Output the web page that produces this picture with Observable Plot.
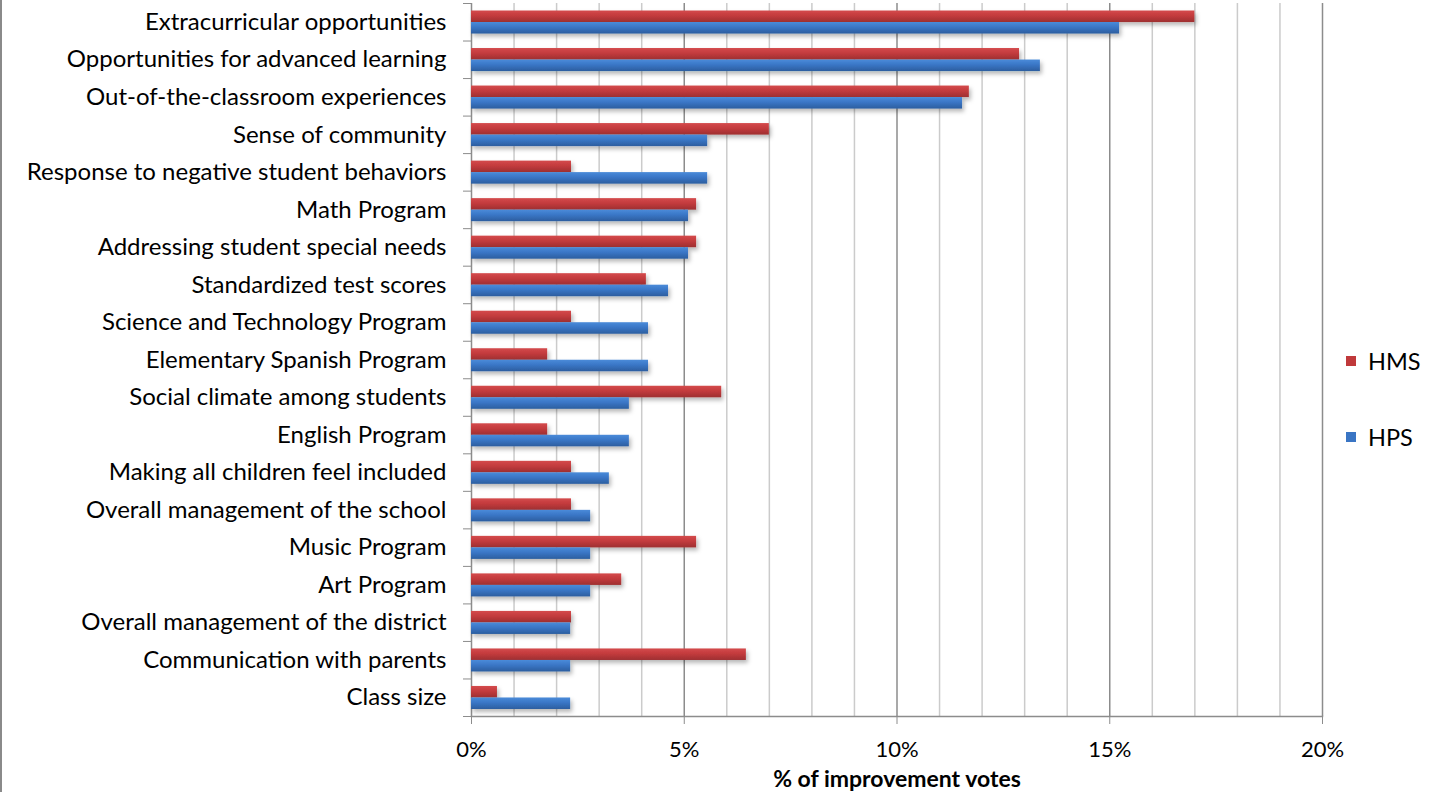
<!DOCTYPE html>
<html><head><meta charset="utf-8">
<script src="https://cdn.jsdelivr.net/npm/d3@7"></script>
<script src="https://cdn.jsdelivr.net/npm/@observablehq/plot@0.6"></script>
<style>
body{margin:0;background:#fff;}
#wrap{position:relative;width:1436px;height:792px;overflow:hidden;font-family:Lato,sans-serif;}
#border{position:absolute;left:0;top:0;width:2px;height:792px;background:#8a8a8a}
.leg{position:absolute;left:1346px;font-size:23.5px;color:#000;display:flex;align-items:center;height:26px;}
.leg span.sw{display:inline-block;width:10px;height:10px;margin-right:12px}
</style></head>
<body>
<div id="wrap"><div id="border"></div></div>
<script>
const categories = [
  "Extracurricular opportunities",
  "Opportunities for advanced learning",
  "Out-of-the-classroom experiences",
  "Sense of community",
  "Response to negative student behaviors",
  "Math Program",
  "Addressing student special needs",
  "Standardized test scores",
  "Science and Technology Program",
  "Elementary Spanish Program",
  "Social climate among students",
  "English Program",
  "Making all children feel included",
  "Overall management of the school",
  "Music Program",
  "Art Program",
  "Overall management of the district",
  "Communication with parents",
  "Class size"
];
const hms = [17.0, 12.88, 11.7, 7.0, 2.35, 5.29, 5.29, 4.11, 2.35, 1.79, 5.88, 1.79, 2.35, 2.35, 5.29, 3.53, 2.35, 6.46, 0.61];
const hps = [15.23, 13.37, 11.54, 5.55, 5.55, 5.1, 5.1, 4.63, 4.16, 4.16, 3.71, 3.71, 3.24, 2.8, 2.8, 2.8, 2.33, 2.33, 2.33];
const seriesNames = ["HMS", "HPS"];
const xTicks = [0, 0.05, 0.10, 0.15, 0.20];
const minorTicks = [0.01,0.02,0.03,0.04,0.06,0.07,0.08,0.09,0.11,0.12,0.13,0.14,0.16,0.17,0.18,0.19];
const axisTitle = "% of improvement votes";

const hmsRows = categories.map((c, i) => ({category: c, value: hms[i] / 100}));
const hpsRows = categories.map((c, i) => ({category: c, value: hps[i] / 100}));

const H = 792, MT = 3, MB = 76;
const band = (H - MT - MB) / categories.length;

const svg = Plot.plot({
  width: 1436,
  height: H,
  marginLeft: 471,
  marginRight: 114,
  marginTop: MT,
  marginBottom: MB,
  style: {fontFamily: "Lato, sans-serif", fontSize: "24px", color: "#000", background: "transparent"},
  x: {domain: [0, 0.2]},
  y: {domain: categories, padding: 0, round: false},
  marks: [
    Plot.ruleX(minorTicks, {stroke: "#cbcbcb", strokeWidth: 1.5}),
    Plot.ruleX(xTicks, {stroke: "#8c8c8c", strokeWidth: 1.5}),
    Plot.barX(hmsRows, {x: "value", y: "category", fill: "url(#gRed)", insetTop: 7.5, insetBottom: 18.5, className: "bars"}),
    Plot.barX(hpsRows, {x: "value", y: "category", fill: "url(#gBlue)", insetTop: 19, insetBottom: 7, className: "bars"}),
    Plot.axisY({tickSize: 0, tickPadding: 25, fontSize: 24, label: null}),
    Plot.axisY({tickSize: 8, tickFormat: () => "", label: null, dy: -band / 2, stroke: "#8c8c8c"}),
    Plot.axisY([categories[categories.length - 1]], {tickSize: 8, tickFormat: () => "", label: null, dy: band / 2, stroke: "#8c8c8c"}),
    Plot.frame({anchor: "bottom", stroke: "#8c8c8c", strokeWidth: 1.5}),
    Plot.axisX({ticks: xTicks, tickFormat: d3.format(".0%"), tickSize: 8, tickPadding: 17, fontSize: 22, label: null, stroke: "#8c8c8c"}),
    Plot.text([axisTitle], {frameAnchor: "bottom", lineAnchor: "bottom", dy: 70, fontWeight: "bold", fontSize: 23, fill: "#000"})
  ]
});

d3.select(svg).insert("defs", ":first-child").html(`
  <linearGradient id="gRed" x1="0" y1="0" x2="0" y2="1">
    <stop offset="0" stop-color="#d44a4c"/><stop offset="0.45" stop-color="#c33b3d"/><stop offset="1" stop-color="#9e2f31"/>
  </linearGradient>
  <linearGradient id="gBlue" x1="0" y1="0" x2="0" y2="1">
    <stop offset="0" stop-color="#4a8bd9"/><stop offset="0.45" stop-color="#3a76c6"/><stop offset="1" stop-color="#2c5e9f"/>
  </linearGradient>
  <filter id="shadow" x="-5%" y="-50%" width="115%" height="250%">
    <feDropShadow dx="2" dy="3" stdDeviation="2" flood-color="#000" flood-opacity="0.28"/>
  </filter>`);
d3.select(svg).selectAll(".bars").attr("filter", "url(#shadow)");
svg.style.position = "absolute";
svg.style.left = "0";
svg.style.top = "0";
const wrap = document.getElementById("wrap");
wrap.appendChild(svg);

const legendColors = {HMS: "#c0393b", HPS: "#3a75c4"};
const legendY = {HMS: 348, HPS: 424};
seriesNames.forEach(s => {
  const d = document.createElement("div");
  d.className = "leg";
  d.style.top = legendY[s] + "px";
  d.innerHTML = `<span class="sw" style="background:${legendColors[s]}"></span>${s}`;
  wrap.appendChild(d);
});
</script>
</body></html>
